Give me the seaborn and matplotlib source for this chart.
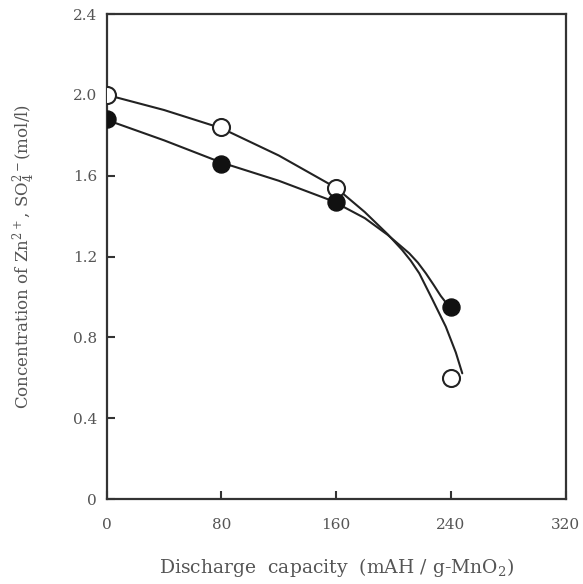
import matplotlib
matplotlib.use("Agg")
import matplotlib.pyplot as plt
import seaborn as sns
import pandas as pd
from matplotlib.ticker import FixedLocator, FuncFormatter

# measured points
capacity = [0, 80, 160, 240]
sulfate_open = [2.00, 1.84, 1.54, 0.60]
zinc_filled = [1.88, 1.66, 1.47, 0.95]

# hand-drawn curves
open_curve_x = [0, 40, 80, 120, 160, 180, 196, 206, 212, 218, 227, 236.5, 243.5, 248]
open_curve_y = [2.00, 1.925, 1.835, 1.70, 1.54, 1.42, 1.31, 1.233, 1.18, 1.117, 0.99, 0.853, 0.725, 0.622]
filled_curve_x = [0, 40, 80, 120, 157.4, 180, 196, 211, 217, 222.6, 228, 233, 238.8]
filled_curve_y = [1.876, 1.775, 1.665, 1.575, 1.475, 1.39, 1.307, 1.216, 1.17, 1.117, 1.06, 1.005, 0.952]

x_ticks = [0, 80, 160, 240, 320]
y_ticks = [0, 0.4, 0.8, 1.2, 1.6, 2.0, 2.4]

sns.set_style("white")
plt.rcParams["font.family"] = ["DejaVu Serif"]
plt.rcParams["mathtext.fontset"] = "dejavuserif"

fig = plt.figure(figsize=(5.83, 5.84), dpi=100)
ax = fig.add_axes([0.183, 0.1455, 0.787, 0.8305])

line_col = "#222222"
df_oc = pd.DataFrame({"x": open_curve_x, "y": open_curve_y})
df_fc = pd.DataFrame({"x": filled_curve_x, "y": filled_curve_y})
sns.lineplot(data=df_oc, x="x", y="y", sort=False, color=line_col, linewidth=1.5, ax=ax, zorder=2)
sns.lineplot(data=df_fc, x="x", y="y", sort=False, color=line_col, linewidth=1.5, ax=ax, zorder=2)

df_o = pd.DataFrame({"x": capacity, "y": sulfate_open})
df_f = pd.DataFrame({"x": capacity, "y": zinc_filled})
sns.scatterplot(data=df_o, x="x", y="y", s=150, color="white", edgecolor=line_col, linewidth=1.5, ax=ax, zorder=3)
sns.scatterplot(data=df_f, x="x", y="y", s=150, color="#111111", edgecolor="#111111", linewidth=1.0, ax=ax, zorder=3)

ax.set_xlim(0, 320)
ax.set_ylim(0, 2.4)
ax.xaxis.set_major_locator(FixedLocator(x_ticks))
ax.yaxis.set_major_locator(FixedLocator(y_ticks))
ax.yaxis.set_major_formatter(FuncFormatter(lambda v, p: "0" if v == 0 else f"{v:.1f}"))
ax.xaxis.set_major_formatter(FuncFormatter(lambda v, p: f"{int(v)}"))

txt_col = "#555555"
ax.tick_params(axis="both", direction="in", length=6, width=1.5, color="#333333",
               labelcolor=txt_col, labelsize=11, left=True, bottom=True)
ax.tick_params(axis="x", pad=14)
ax.tick_params(axis="y", pad=7)

for s in ax.spines.values():
    s.set_color("#333333")
    s.set_linewidth(1.6)
    s.set_visible(True)

ax.set_xlabel("Discharge  capacity  (mAH / g-MnO$_2$)", fontsize=13.5, color=txt_col, labelpad=17)
ax.set_ylabel("Concentration of Zn$^{2+}$, SO$_4^{2-}$(mol/l)", fontsize=12, color=txt_col, labelpad=26)

fig.savefig("out.png", dpi=100)
